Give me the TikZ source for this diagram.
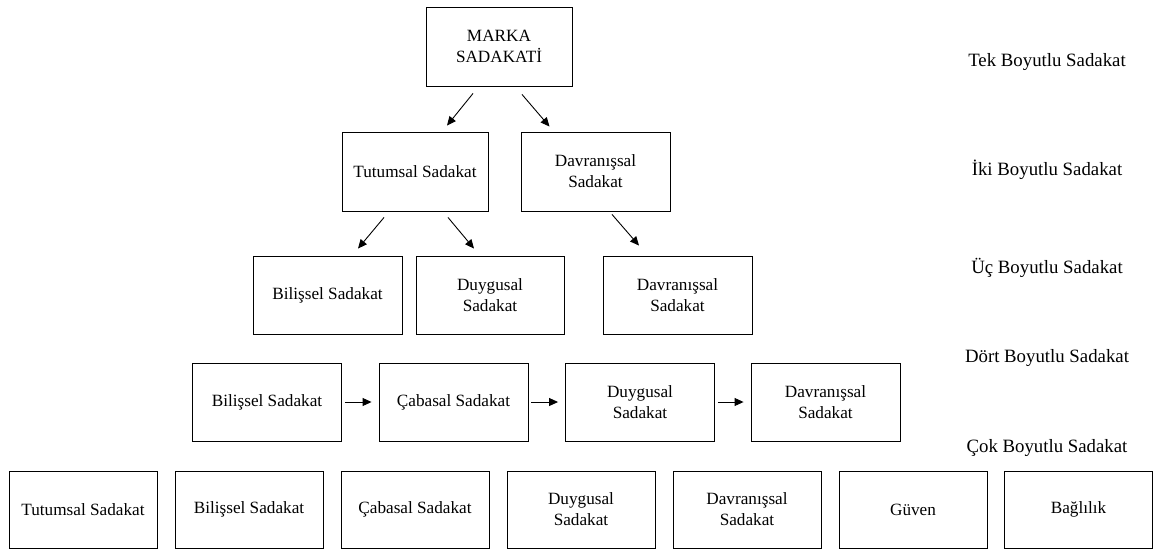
\documentclass[tikz,border=0pt]{standalone}
\usepackage{fontspec}
\setmainfont{Liberation Serif}
\usetikzlibrary{arrows.meta}
\begin{document}
\begin{tikzpicture}[x=1pt,y=-1pt,
  box/.style={draw=black,line width=0.9pt,minimum height=78pt,inner sep=0pt,align=center,
    font=\fontsize{17.2}{21}\selectfont},
  lvl/.style={font=\fontsize{18.8}{22}\selectfont,inner sep=0pt},
  arr/.style={draw=black,line width=0.9pt,-{Triangle[length=9pt,width=8pt]}}]
\useasboundingbox (0,0) rectangle (1155,549);
% level 1
\node[box,minimum width=146pt,minimum height=79pt] (marka) at (499,46.5) {MARKA\\SADAKATİ};
% level 2
\node[box,minimum width=146pt,minimum height=79pt] (tut2) at (415,171.5) {Tutumsal Sadakat};
\node[box,minimum width=149pt,minimum height=79pt] (dav2) at (595.5,171.5) {Davranışsal\\Sadakat};
% level 3
\node[box,minimum width=149pt] (bil3) at (327.5,295) {Bilişsel Sadakat};
\node[box,minimum width=148pt] (duy3) at (490,295) {Duygusal\\Sadakat};
\node[box,minimum width=149pt] (dav3) at (677.5,295) {Davranışsal\\Sadakat};
% level 4
\node[box,minimum width=149pt] (bil4) at (267,402) {Bilişsel Sadakat};
\node[box,minimum width=149pt] (cab4) at (453.5,402) {Çabasal Sadakat};
\node[box,minimum width=149pt] (duy4) at (640,402) {Duygusal\\Sadakat};
\node[box,minimum width=149pt] (dav4) at (825.5,402) {Davranışsal\\Sadakat};
% level 5
\node[box,minimum width=148pt,minimum height=77pt] (tut5) at (83,509.5) {Tutumsal Sadakat};
\node[box,minimum width=148pt,minimum height=77pt] (bil5) at (249,509.5) {Bilişsel Sadakat};
\node[box,minimum width=148pt,minimum height=77pt] (cab5) at (415,509.5) {Çabasal Sadakat};
\node[box,minimum width=148pt,minimum height=77pt] (duy5) at (581,509.5) {Duygusal\\Sadakat};
\node[box,minimum width=148pt,minimum height=77pt] (dav5) at (747,509.5) {Davranışsal\\Sadakat};
\node[box,minimum width=148pt,minimum height=77pt] (guv5) at (913,509.5) {Güven};
\node[box,minimum width=148pt,minimum height=77pt] (bag5) at (1078.5,509.5) {Bağlılık};
% level labels
\node[lvl] (l1) at (1047,62) {Tek Boyutlu Sadakat};
\node[lvl] (l2) at (1047,170) {İki Boyutlu Sadakat};
\node[lvl] (l3) at (1047,268) {Üç Boyutlu Sadakat};
\node[lvl] (l4) at (1047,358) {Dört Boyutlu Sadakat};
\node[lvl] (l5) at (1047,448) {Çok Boyutlu Sadakat};
% arrows
\draw[arr] ([xshift=-26pt,yshift=-7pt]marka.south) -- ([xshift=32pt,yshift=6pt]tut2.north);
\draw[arr] ([xshift=23pt,yshift=-8pt]marka.south) -- ([xshift=-46pt,yshift=5pt]dav2.north);
\draw[arr] ([xshift=-31pt,yshift=-6pt]tut2.south) -- ([xshift=30.5pt,yshift=7pt]bil3.north);
\draw[arr] ([xshift=33pt,yshift=-6pt]tut2.south) -- ([xshift=-16pt,yshift=7pt]duy3.north);
\draw[arr] ([xshift=16.5pt,yshift=-3pt]dav2.south) -- ([xshift=-38.5pt,yshift=10pt]dav3.north);
\draw[arr] ([xshift=3pt]bil4.east) -- ([xshift=-7pt]cab4.west);
\draw[arr] ([xshift=3pt]cab4.east) -- ([xshift=-7pt]duy4.west);
\draw[arr] ([xshift=3pt]duy4.east) -- ([xshift=-7pt]dav4.west);
\end{tikzpicture}
\end{document}
